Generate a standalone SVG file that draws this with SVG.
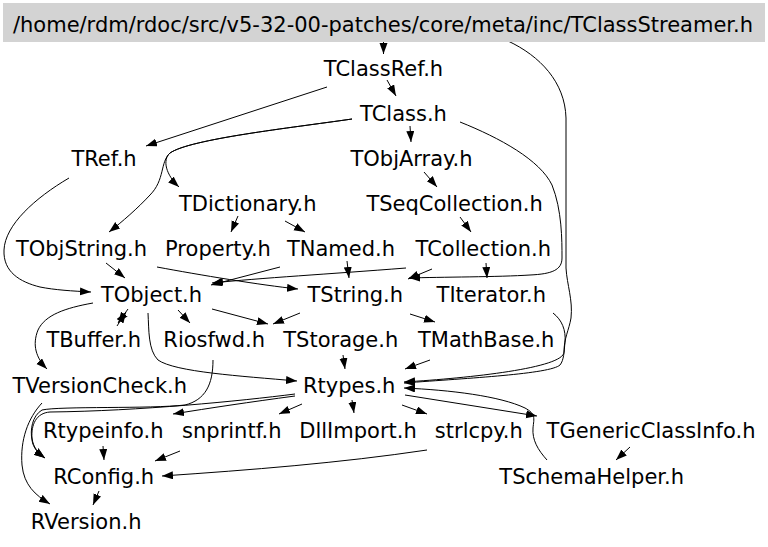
<svg xmlns="http://www.w3.org/2000/svg" width="768" height="547" viewBox="0 0 768 547">
<defs>
<marker id="ah" markerUnits="userSpaceOnUse" markerWidth="12" markerHeight="9" refX="11" refY="4" orient="auto">
<path d="M0,0 L11,4 L0,8 z" fill="#000"/>
</marker>
<style>
.n text{font-family:"DejaVu Sans","Bitstream Vera Sans",sans-serif;font-size:21px;fill:#000;text-anchor:middle}
.e path{fill:none;stroke:#000;stroke-width:1;marker-end:url(#ah)}
</style>
</defs>
<rect width="768" height="547" fill="#fff"/>
<g class="e" id="edges">
<path d="M383.5,42 L383.5,54"/>
<path d="M508,41 C540,56 565,82 566,118 L566,268 C567,285 573,300 571,318 C569,330 564,338 564,352 C564,368 470,378 404,382"/>
<path d="M387,80 L396,96"/>
<path d="M327,87 L146,146"/>
<path d="M410,126 L411,142"/>
<path d="M352,119 C290,128 190,139 170,153 C160,162 165,180 150,195 C138,208 122,222 109,232"/>
<path d="M352,119 C290,128 190,139 170,153 C162,160 166,175 179,187"/>
<path d="M460,122 C500,138 540,160 552,185 C562,210 562,240 562,258 C562,270 552,274 530,275 C500,277 440,277 409,278"/>
<path d="M69,178 C35,198 5,225 4,250 C3,272 20,282 40,287 C55,290 72,291 91,292"/>
<path d="M106,263 L125,278"/>
<path d="M157,267 C200,275 260,285 298,289"/>
<path d="M280,267 L211,285"/>
<path d="M347,261 L349,278"/>
<path d="M406,268 C330,274 260,278 212,283"/>
<path d="M432,269 L408,279"/>
<path d="M486,263 L487,278"/>
<path d="M460,217 L471,232"/>
<path d="M424,172 L437,187"/>
<path d="M238,216 L231,232"/>
<path d="M285,221 L305,232"/>
<path d="M128,309 L118,323"/>
<path d="M117,326 L126,312"/>
<path d="M93,303 C65,308 45,315 38,330 C32,345 36,358 47,369"/>
<path d="M178,310 L190,323"/>
<path d="M212,309 L268,324"/>
<path d="M300,313 L273,324"/>
<path d="M410,314 L435,322"/>
<path d="M148,313 C149,330 148,350 158,360 C175,372 240,376 297,381"/>
<path d="M343,355 L345,369"/>
<path d="M430,360 L405,369"/>
<path d="M553,313 C562,320 566,330 565,342 C564,352 564,360 560,365 C550,374 470,378 404,383"/>
<path d="M405,395 L537,416"/>
<path d="M547,460 C538,450 532,440 533,428 C534,418 536,414 525,408 C500,396 450,390 404,388"/>
<path d="M630,447 L616,460"/>
<path d="M295,396 C250,402 210,408 173,414"/>
<path d="M295,394 C240,401 140,411 50,412 C36,413 31,425 32,438 C33,447 38,453 45,458"/>
<path d="M213,360 C213,385 205,400 185,405 C150,409 60,406 42,410 C32,416 30,430 32,440 C33,448 38,453 45,458"/>
<path d="M42,403 C28,418 20,440 22,465 C24,485 35,495 50,504"/>
<path d="M302,404 L279,414"/>
<path d="M352,400 L354,413"/>
<path d="M402,405 L427,414"/>
<path d="M103,446 L104,460"/>
<path d="M180,451 L155,461"/>
<path d="M427,450 C340,463 250,470 162,476"/>
<path d="M99,491 L93,505"/>
</g>
<g class="n" id="n_root"><rect x="3" y="3" width="762" height="39" fill="#d3d3d3"/><text x="383" y="32">/home/rdm/rdoc/src/v5-32-00-patches/core/meta/inc/TClassStreamer.h</text></g>
<g class="n" id="n_TClassRef"><text x="383.5" y="76">TClassRef.h</text></g>
<g class="n" id="n_TClass"><text x="403.5" y="120.5">TClass.h</text></g>
<g class="n" id="n_TRef"><text x="104" y="166">TRef.h</text></g>
<g class="n" id="n_TObjArray"><text x="411.5" y="166">TObjArray.h</text></g>
<g class="n" id="n_TDictionary"><text x="247.8" y="211">TDictionary.h</text></g>
<g class="n" id="n_TSeqCollection"><text x="454.6" y="211">TSeqCollection.h</text></g>
<g class="n" id="n_TObjString"><text x="81.5" y="256">TObjString.h</text></g>
<g class="n" id="n_Property"><text x="218" y="256">Property.h</text></g>
<g class="n" id="n_TNamed"><text x="341" y="256">TNamed.h</text></g>
<g class="n" id="n_TCollection"><text x="483.3" y="256">TCollection.h</text></g>
<g class="n" id="n_TObject"><text x="151.5" y="302">TObject.h</text></g>
<g class="n" id="n_TString"><text x="355.3" y="302">TString.h</text></g>
<g class="n" id="n_TIterator"><text x="491.3" y="302">TIterator.h</text></g>
<g class="n" id="n_TBuffer"><text x="93.7" y="347">TBuffer.h</text></g>
<g class="n" id="n_Riosfwd"><text x="214.2" y="347">Riosfwd.h</text></g>
<g class="n" id="n_TStorage"><text x="340.8" y="347">TStorage.h</text></g>
<g class="n" id="n_TMathBase"><text x="486.2" y="347">TMathBase.h</text></g>
<g class="n" id="n_TVersionCheck"><text x="99.8" y="392.5">TVersionCheck.h</text></g>
<g class="n" id="n_Rtypes"><text x="349.2" y="392.5">Rtypes.h</text></g>
<g class="n" id="n_Rtypeinfo"><text x="103.3" y="438">Rtypeinfo.h</text></g>
<g class="n" id="n_snprintf"><text x="231.8" y="438">snprintf.h</text></g>
<g class="n" id="n_DllImport"><text x="358" y="438">DllImport.h</text></g>
<g class="n" id="n_strlcpy"><text x="478.8" y="438">strlcpy.h</text></g>
<g class="n" id="n_TGenericClassInfo"><text x="651" y="438">TGenericClassInfo.h</text></g>
<g class="n" id="n_RConfig"><text x="103.7" y="484">RConfig.h</text></g>
<g class="n" id="n_TSchemaHelper"><text x="591.7" y="484">TSchemaHelper.h</text></g>
<g class="n" id="n_RVersion"><text x="86.2" y="529">RVersion.h</text></g>
</svg>
